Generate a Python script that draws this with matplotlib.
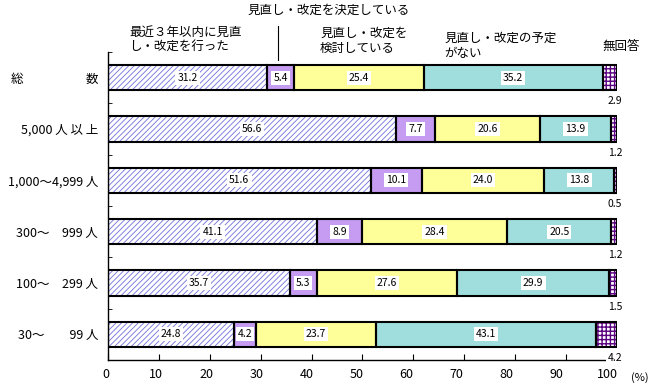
import numpy as np
import matplotlib as mtp
mtp.use('Agg')
import matplotlib.pyplot as plt
from matplotlib.transforms import ScaledTranslation

plt.rcParams['font.family'] = ['Noto Sans CJK JP', 'DejaVu Sans']

# data
categories = ['総　　　　　数', '5,000 人 以 上', '1,000～4,999 人', '300～　999 人', '100～　299 人', '30～　　99 人']
done_recent = [31.2, 56.6, 51.6, 41.1, 35.7, 24.8]
considering = [5.4, 7.7, 10.1, 8.9, 5.3, 4.2]
decided = [25.4, 20.6, 24.0, 28.4, 27.6, 23.7]
no_plan = [35.2, 13.9, 13.8, 20.5, 29.9, 43.1]
no_answer = [2.9, 1.2, 0.5, 1.2, 1.5, 4.2]

series = [done_recent, considering, decided, no_plan, no_answer]
fills = ['white', '#c69cf2', '#ffff99', '#a0dede', 'white']
hatches = ['//////', None, None, None, '++++']
hatch_cols = ['#7070dc', None, None, None, '#5a0080']
hatch_lw = [0.6, 0, 0, 0, 1.0]

fig = plt.figure(figsize=(6.54, 3.90), dpi=100)
ax = fig.add_axes([0.1651, 0.0769, 0.7783, 0.7897])

y = np.arange(len(categories))
h = 0.49
left = np.zeros(len(categories))
for k, vals in enumerate(series):
    vals = np.array(vals)
    if hatches[k]:
        with plt.rc_context({'hatch.linewidth': hatch_lw[k]}):
            bars = ax.barh(y, vals, h, left=left, color=fills[k], edgecolor=hatch_cols[k],
                           hatch=hatches[k], linewidth=0, zorder=2)
            for b in bars:
                if hasattr(b, 'set_hatch_linewidth'):
                    b.set_hatch_linewidth(hatch_lw[k])
    else:
        ax.barh(y, vals, h, left=left, color=fills[k], linewidth=0, zorder=2)
    ax.barh(y, vals, h, left=left, fill=False, edgecolor='black', linewidth=1.5, zorder=3)
    for i, v in enumerate(vals):
        if k < 4:
            ax.text(left[i] + v / 2, y[i], f'{v:.1f}', ha='center', va='center', fontsize=7.5,
                    zorder=5, bbox=dict(facecolor='white', edgecolor='none', pad=1.5))
        else:
            ax.text(99.6, y[i] + 0.46, f'{v:.1f}', ha='center', va='center', fontsize=7.5,
                    zorder=6, clip_on=False,
                    bbox=dict(facecolor='white', edgecolor='none', pad=1))
    left += vals

ax.set_xlim(0, 100)
ax.set_ylim(5.5, -0.5)
xt = np.arange(0, 101, 10)
ax.set_xticks(xt)
ax.set_yticks(y)
ax.set_yticklabels(categories, fontsize=9)
ax.set_yticks(np.arange(-0.5, 5.6, 1), minor=True)
ax.tick_params(axis='y', which='major', length=0, pad=7)
ax.tick_params(axis='y', which='minor', direction='in', length=3)
ax.tick_params(axis='x', direction='in', length=4, labelsize=9, pad=6)
# labels sit a little left of their ticks in the original
for v, lab in zip(xt, ax.get_xticklabels()):
    lab.set_transform(lab.get_transform() + ScaledTranslation(-(2 + 0.08 * v) / 100, 0, fig.dpi_scale_trans))
ax.spines['top'].set_visible(False)
ax.spines['right'].set_visible(False)
for s in ['left', 'bottom']:
    ax.spines[s].set_linewidth(1)

# header labels
fig.text(329 / 654, 1 - 10 / 390, '見直し・改定を決定している', ha='center', va='center', fontsize=9)
fig.text(129 / 654, 1 - 40 / 390, '最近３年以内に見直\nし・改定を行った', ha='left', va='center',
         fontsize=9, linespacing=1.15)
fig.text(320 / 654, 1 - 41 / 390, '見直し・改定を\n検討している', ha='left', va='center',
         fontsize=9, linespacing=1.15)
fig.text(444 / 654, 1 - 46 / 390, '見直し・改定の予定\nがない', ha='left', va='center',
         fontsize=9, linespacing=1.15)
fig.text(602 / 654, 1 - 46 / 390, '無回答', ha='left', va='center', fontsize=9)
fig.add_artist(plt.Line2D([278 / 654, 278 / 654], [1 - 26 / 390, 1 - 60 / 390],
                          color='black', linewidth=0.8))
fig.text(640 / 654, 1 - 378 / 390, '(%)', ha='center', va='center', fontsize=8)

fig.savefig('out.png', dpi=100)
